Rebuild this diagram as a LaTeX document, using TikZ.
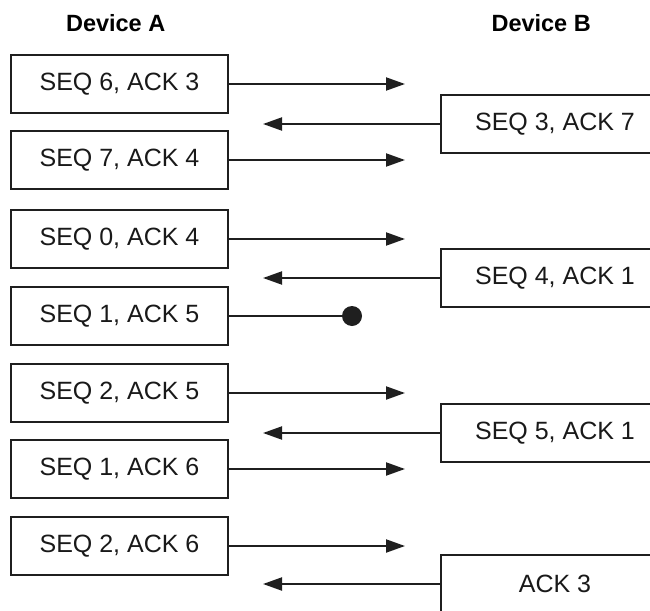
\documentclass[tikz,border=0pt]{standalone}
\usepackage{fontspec}
\setmainfont{Liberation Sans}
\usetikzlibrary{arrows.meta}
\begin{document}
\begin{tikzpicture}[x=1pt,y=-1pt,
    msg/.style={draw=black!88, line width=2pt, minimum width=217pt, minimum height=58pt,
      inner sep=0pt, text=black!90, font=\fontsize{25}{28}\selectfont},
    rmsg/.style={msg, minimum width=228pt},
    send/.style={draw=black!88, line width=2pt, -{Triangle[length=19pt,width=13pt]}},
    lost/.style={circle, fill=black!88, inner sep=0pt, minimum size=20pt},
    head/.style={anchor=base west, font=\bfseries\fontsize{23.5}{28}\selectfont}]

      \useasboundingbox (0,0) rectangle (650,610);

      \node[head] (devA) at (62.5,31.5) {Device A};
      \node[head] (devB) at (488,31.5) {Device B};

      % device A
      \node[msg] (a1) at (119.5,84) {SEQ 6, ACK 3};
      \node[msg] (a2) at (119.5,160) {SEQ 7, ACK 4};
      \node[msg] (a3) at (119.5,239) {SEQ 0, ACK 4};
      \node[msg] (a4) at (119.5,316) {SEQ 1, ACK 5};
      \node[msg] (a5) at (119.5,393) {SEQ 2, ACK 5};
      \node[msg] (a6) at (119.5,469) {SEQ 1, ACK 6};
      \node[msg] (a7) at (119.5,546) {SEQ 2, ACK 6};

      % device B
      \node[rmsg] (b1) at (555,124) {SEQ 3, ACK 7};
      \node[rmsg] (b2) at (555,278) {SEQ 4, ACK 1};
      \node[rmsg] (b3) at (555,433) {SEQ 5, ACK 1};
      \node[rmsg] (b4) at (555,584) {ACK 3};

      \coordinate (ta1) at (405,84);
      \coordinate (ta2) at (405,160);
      \coordinate (ta3) at (405,239);
      \coordinate (ta5) at (405,393);
      \coordinate (ta6) at (405,469);
      \coordinate (ta7) at (405,546);
      \coordinate (tb1) at (263,124);
      \coordinate (tb2) at (263,278);
      \coordinate (tb3) at (263,433);
      \coordinate (tb4) at (263,584);
      \node[lost] (drop) at (352,316) {};

      \draw[send] (a1.east) -- (ta1);
      \draw[send] (a2.east) -- (ta2);
      \draw[send] (a3.east) -- (ta3);
      \draw[send] (a5.east) -- (ta5);
      \draw[send] (a6.east) -- (ta6);
      \draw[send] (a7.east) -- (ta7);
      \draw[send] (b1.west) -- (tb1);
      \draw[send] (b2.west) -- (tb2);
      \draw[send] (b3.west) -- (tb3);
      \draw[send] (b4.west) -- (tb4);
      \draw[draw=black!88, line width=2pt] (a4.east) -- (drop);

    \end{tikzpicture}
\end{document}
